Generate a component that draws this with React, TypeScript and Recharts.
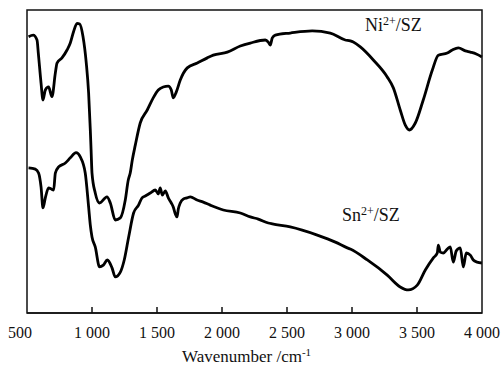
import React from 'react';
import { LineChart, Line, XAxis, YAxis } from 'recharts';

// wavenumber (cm-1) and relative transmittance (a.u., 0-100)
const niWavenumber = [
  512, 548, 577, 587, 608, 623, 641, 666, 692, 718, 731, 769, 808, 833, 858, 885, 905, 931, 956, 974,
  987, 993, 1000, 1025, 1058, 1115, 1141, 1179, 1218, 1256, 1279, 1294, 1310, 1333, 1371, 1425, 1471,
  1510, 1548, 1587, 1610, 1625, 1648, 1679, 1733, 1810, 1887, 1933, 2041, 2141, 2218, 2333, 2356, 2371,
  2387, 2410, 2525, 2694, 2833, 2948, 2987, 3010, 3064, 3164, 3271, 3318, 3371, 3410, 3441, 3487, 3548,
  3618, 3664, 3733, 3772, 3818, 3872, 3910, 3956, 4000,
];
const niSignal = [
  91.2, 91.7, 90.1, 85.8, 75.9, 70.3, 73.6, 74.6, 71.4, 79.2, 82.5, 84.2, 86.8, 89.1, 92.8, 95.6, 95.4,
  91.2, 82.5, 72.6, 60.4, 53.8, 46.2, 39.6, 36.3, 38.3, 36.3, 30.7, 31.4, 37.3, 43.9, 46.2, 50.5, 55.4,
  62.7, 67.0, 71.0, 73.6, 74.6, 74.9, 73.6, 71.0, 72.9, 76.9, 80.9, 82.5, 84.2, 85.1, 86.1, 88.1, 89.1,
  90.1, 89.4, 88.4, 90.8, 91.7, 92.4, 93.1, 92.4, 90.1, 89.8, 89.4, 87.8, 83.5, 77.9, 74.3, 67.0, 62.0,
  60.4, 62.7, 70.3, 80.2, 85.1, 85.8, 86.8, 87.5, 86.5, 86.1, 85.5, 84.5,
];

const snWavenumber = [
  512, 564, 589, 608, 623, 641, 666, 687, 705, 718, 743, 795, 833, 877, 910, 948, 974, 987, 1000, 1025,
  1058, 1087, 1118, 1154, 1179, 1218, 1248, 1282, 1320, 1358, 1385, 1410, 1448, 1487, 1510, 1525, 1541,
  1564, 1587, 1610, 1625, 1641, 1654, 1664, 1679, 1702, 1731, 1756, 1808, 1856, 1910, 2010, 2141, 2218,
  2279, 2356, 2387, 2525, 2733, 2872, 2964, 2987, 3118, 3271, 3371, 3433, 3502, 3564, 3626, 3656, 3664,
  3679, 3702, 3733, 3756, 3779, 3802, 3833, 3856, 3879, 3910, 3933, 3962, 4000,
];
const snSignal = [
  47.9, 47.5, 46.2, 41.6, 34.7, 38.0, 41.3, 40.9, 40.6, 46.2, 48.2, 49.5, 51.2, 52.9, 51.5, 46.2, 35.0,
  29.0, 25.1, 21.8, 15.2, 15.8, 17.5, 14.9, 11.9, 13.5, 17.5, 25.1, 33.0, 35.6, 38.0, 38.6, 39.6, 40.6,
  39.3, 41.3, 38.9, 40.3, 38.0, 36.3, 35.0, 32.7, 31.7, 34.3, 36.3, 37.6, 38.0, 38.3, 37.3, 36.6, 35.6,
  34.0, 33.0, 31.7, 31.0, 29.7, 29.4, 28.4, 25.7, 23.4, 21.5, 21.1, 17.5, 12.5, 8.6, 7.6, 9.2, 14.2,
  18.2, 19.8, 22.4, 20.1, 19.8, 21.1, 21.8, 16.8, 20.5, 21.5, 15.2, 19.8, 19.1, 17.5, 16.8, 16.5,
];

const xTicks = [500, 1000, 1500, 2000, 2500, 3000, 3500, 4000];
const xTickLabels = ['500', '1 000', '1 500', '2 000', '2 500', '3 000', '3 500', '4 000'];

const niData = niWavenumber.map((wn, i) => ({ wn, t: niSignal[i] }));
const snData = snWavenumber.map((wn, i) => ({ wn, t: snSignal[i] }));

const W = 502;
const H = 368;
const M = { top: 10, right: 20, left: 27, bottom: 0 };
const AXIS_H = 55;
const FONT = '"Liberation Serif", serif';

function WaveTick(props: any) {
  const { x, y, payload } = props;
  const v = payload.value;
  const idx = xTicks.indexOf(v);
  const edge = v === 500 || v === 4000;
  return (
    <g>
      {!edge && <line x1={x} y1={y} x2={x} y2={y - 6} stroke="#111" strokeWidth={1.5} />}
      <text
        x={v === 500 ? x - 7 : x}
        y={y + 25}
        textAnchor="middle"
        fontFamily={FONT}
        fontSize={16}
        fill="#111"
      >
        {xTickLabels[idx]}
      </text>
    </g>
  );
}

export default function App() {
  const plotW = W - M.left - M.right;
  const plotH = H - M.top - M.bottom - AXIS_H;
  return (
    <div style={{ position: 'absolute', left: 0, top: 0, width: W, height: H, background: '#fff' }}>
      <LineChart width={W} height={H} margin={M}>
        <XAxis
          dataKey="wn"
          type="number"
          domain={[500, 4000]}
          ticks={xTicks}
          height={AXIS_H}
          axisLine={{ stroke: '#111', strokeWidth: 1.5 }}
          tickLine={false}
          tickSize={0}
          tickMargin={0}
          tick={WaveTick}
          interval={0}
        />
        <YAxis hide domain={[0, 100]} />
        <Line
          data={niData}
          dataKey="t"
          type="monotone"
          stroke="#000"
          strokeWidth={2.8}
          dot={false}
          isAnimationActive={false}
        />
        <Line
          data={snData}
          dataKey="t"
          type="monotone"
          stroke="#000"
          strokeWidth={2.8}
          dot={false}
          isAnimationActive={false}
        />
      </LineChart>
      <svg width={W} height={H} style={{ position: 'absolute', left: 0, top: 0, pointerEvents: 'none' }}>
        {/* plot frame */}
        <rect x={M.left} y={M.top} width={plotW} height={plotH} fill="none" stroke="#111" strokeWidth={1.5} />
        <text x={365} y={31} fontFamily={FONT} fontSize={18} fill="#111">
          Ni
          <tspan dy={-6} fontSize={12}>2+</tspan>
          <tspan dy={6} fontSize={18}>/SZ</tspan>
        </text>
        <text x={342} y={221} fontFamily={FONT} fontSize={18} fill="#111">
          Sn
          <tspan dy={-6} fontSize={12}>2+</tspan>
          <tspan dy={6} fontSize={18}>/SZ</tspan>
        </text>
        <text x={182} y={362} fontFamily={FONT} fontSize={17} fill="#111">
          Wavenumber /cm
          <tspan dy={-6} fontSize={11}>-1</tspan>
        </text>
      </svg>
    </div>
  );
}
